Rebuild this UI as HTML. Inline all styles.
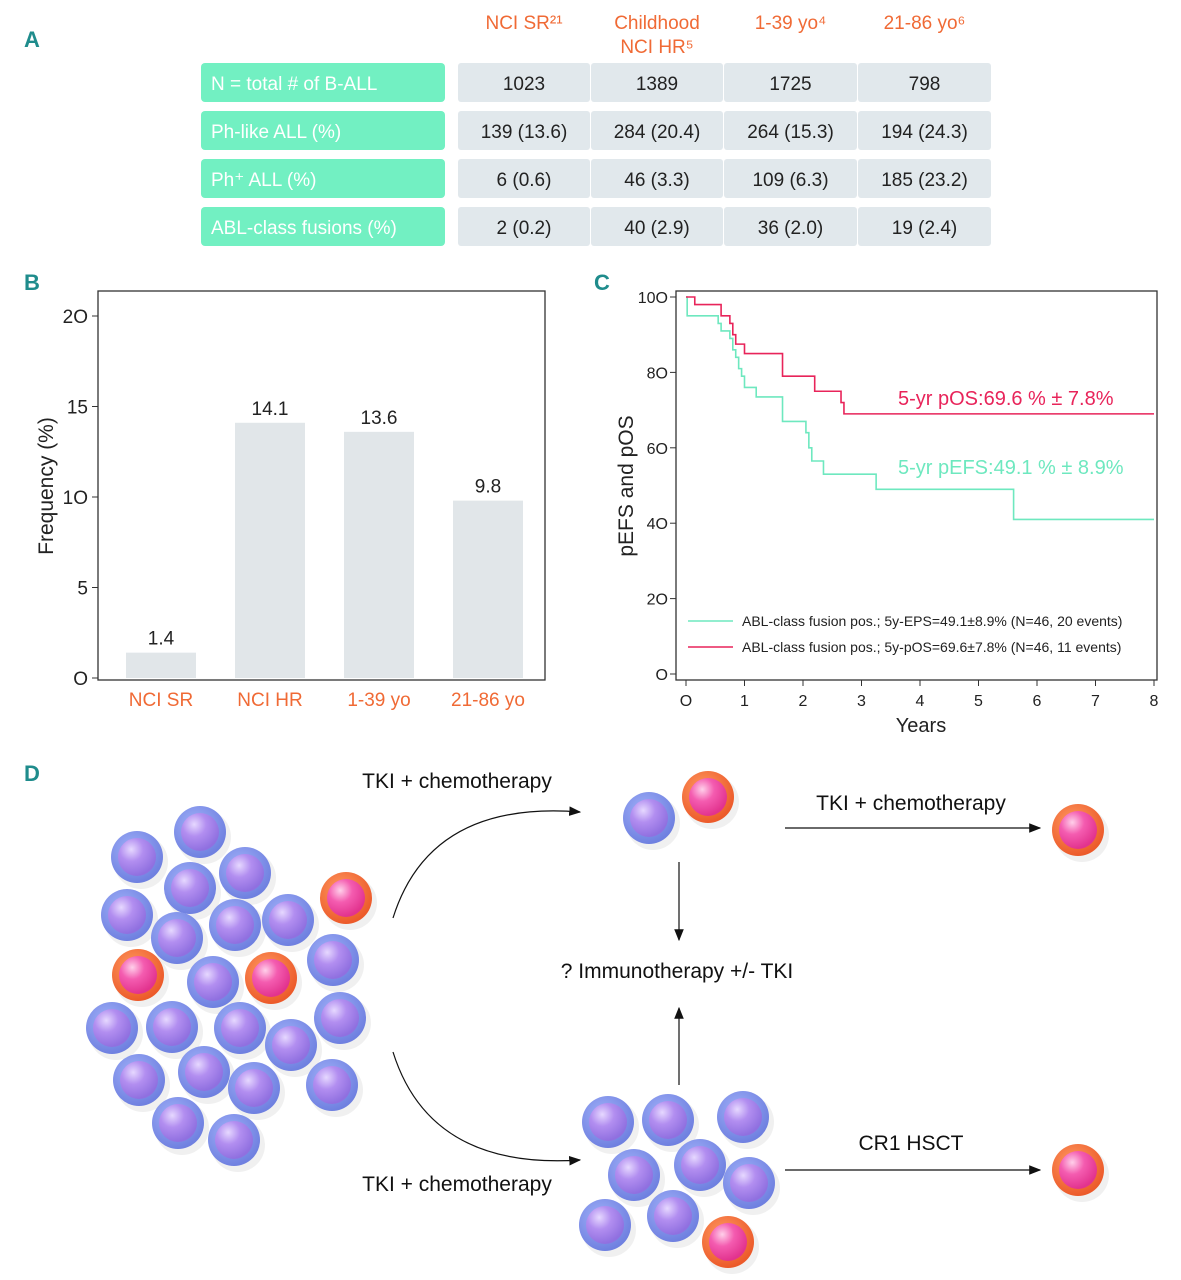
<!DOCTYPE html>
<html><head><meta charset="utf-8"><style>
body{margin:0;background:#fff;width:1181px;height:1280px;overflow:hidden;font-family:"Liberation Sans",sans-serif}
svg{position:absolute;left:0;top:0}
</style></head><body>
<svg width="1181" height="1280" viewBox="0 0 1181 1280" xmlns="http://www.w3.org/2000/svg">
<defs>
<radialGradient id="bo" cx="0.4" cy="0.35" r="0.65"><stop offset="0" stop-color="#9fb0f8"/><stop offset="1" stop-color="#6f80e0"/></radialGradient>
<radialGradient id="bi" cx="0.35" cy="0.3" r="0.7"><stop offset="0" stop-color="#e6d8ff"/><stop offset="0.45" stop-color="#b28ef0"/><stop offset="1" stop-color="#9070e0"/></radialGradient>
<radialGradient id="ro" cx="0.4" cy="0.35" r="0.65"><stop offset="0" stop-color="#ff9a60"/><stop offset="1" stop-color="#ec5a2a"/></radialGradient>
<radialGradient id="ri" cx="0.35" cy="0.3" r="0.7"><stop offset="0" stop-color="#ffd0ea"/><stop offset="0.45" stop-color="#f45cb0"/><stop offset="1" stop-color="#e2338e"/></radialGradient>
<marker id="ah" markerWidth="10" markerHeight="8" refX="9" refY="4" orient="auto"><path d="M0,0 L10,4 L0,8 z" fill="#111"/></marker>
</defs>
<g font-family="Liberation Sans" font-weight="bold" fill="#1f8c8c" font-size="22">
<text x="24" y="47">A</text>
<text x="24" y="290">B</text>
<text x="594" y="290">C</text>
<text x="24" y="781">D</text>
</g>
<g id="tableA" font-size="19"></g>
<g id="chartB"></g>
<g id="chartC"></g>
<g id="panelD" font-size="21" fill="#111"></g>
</svg>
<script>
const NS="http://www.w3.org/2000/svg";
function mk(p,t,a,txt){const e=document.createElementNS(NS,t);for(const k in a)e.setAttribute(k,a[k]);if(txt!=null)e.textContent=txt;p.appendChild(e);return e;}
// ---- Table A
const colHeads=[["NCI SR²¹"],["Childhood","NCI HR⁵"],["1-39 yo⁴"],["21-86 yo⁶"]];
const rowHeads=["N = total # of  B-ALL","Ph-like ALL (%)","Ph⁺ ALL (%)","ABL-class fusions (%)"];
const tableVals=[["1023","1389","1725","798"],["139 (13.6)","284 (20.4)","264 (15.3)","194 (24.3)"],["6 (0.6)","46 (3.3)","109 (6.3)","185 (23.2)"],["2 (0.2)","40 (2.9)","36 (2.0)","19 (2.4)"]];
const T=document.getElementById('tableA');
const cx=[458,591,724,858],cw=[132,132,133,133],ry=[63,111,159,207];
colHeads.forEach((h,i)=>{h.forEach((s,j)=>{const t=mk(T,'text',{x:cx[i]+cw[i]/2,y:29+j*24,'text-anchor':'middle',fill:'#f06a35'},s);
});});
rowHeads.forEach((h,r)=>{const rc=mk(T,'rect',{x:201,y:ry[r],width:244,height:39,rx:4,fill:'#72f0c2'});

const t=mk(T,'text',{x:211,y:ry[r]+27,fill:'#fff'},h);
tableVals[r].forEach((v,i)=>{const c=mk(T,'rect',{x:cx[i],y:ry[r],width:cw[i],height:39,fill:'#e1e8ec',rx:3});

const tt=mk(T,'text',{x:cx[i]+cw[i]/2,y:ry[r]+27,'text-anchor':'middle',fill:'#222'},v);
});});
// ---- Chart B
const bCats=["NCI SR","NCI HR","1-39 yo","21-86 yo"];
const bVals=[1.4,14.1,13.6,9.8];
const bTicks=[0,5,10,15,20];
const B=document.getElementById('chartB');
const by=v=>678-v*18.1, bx=i=>161+i*109;
const fr=mk(B,'rect',{x:98,y:291,width:447,height:389,fill:'none',stroke:'#333','stroke-width':1.3});

bTicks.forEach(t=>{mk(B,'line',{x1:92,x2:98,y1:by(t),y2:by(t),stroke:'#333'});
const l=mk(B,'text',{x:88,y:by(t)+7,'text-anchor':'end','font-size':19,fill:'#222'},t===0?'O':String(t).replace('0','O'));
});
bVals.forEach((v,i)=>{const r=mk(B,'rect',{x:bx(i)-35,y:by(v),width:70,height:678-by(v),fill:'#e1e6e9'});

const l=mk(B,'text',{x:bx(i),y:by(v)-8,'text-anchor':'middle','font-size':19,fill:'#222'},v.toFixed(1));

const c=mk(B,'text',{x:bx(i),y:706,'text-anchor':'middle','font-size':19,fill:'#f06a35'},bCats[i]);
});
const yt=mk(B,'text',{x:53,y:486,'text-anchor':'middle','font-size':21,fill:'#222',transform:'rotate(-90 53 486)'},'Frequency (%)');

// ---- Chart C
const efsT=[0,0.02,0.55,0.6,0.75,0.8,0.85,0.9,0.95,1.0,1.2,1.65,2.05,2.1,2.15,2.35,3.25,5.6,8];
const efsV=[100,95,93,91,89,86,84,81,79,76,73.5,67,64,60,56.5,53,49,41,41];
const osT=[0,0.15,0.6,0.75,0.8,0.85,1.0,1.65,2.2,2.65,2.7,8];
const osV=[100,98,95,93,90,87.5,85,79,75,72,69,69];
const cXT=[0,1,2,3,4,5,6,7,8], cYT=[0,20,40,60,80,100];
const C=document.getElementById('chartC');
const sx=t=>686+t*58.5, sy=v=>674-v*3.77;
const cf=mk(C,'rect',{x:676,y:291,width:481,height:389,fill:'none',stroke:'#333','stroke-width':1.3});

cYT.forEach(t=>{mk(C,'line',{x1:670,x2:676,y1:sy(t),y2:sy(t),stroke:'#333'});
const l=mk(C,'text',{x:668,y:sy(t)+6,'text-anchor':'end','font-size':16,fill:'#222'},String(t).replace(/0/g,'O').replace('1OO','10O'));
});
cXT.forEach(t=>{mk(C,'line',{x1:sx(t),x2:sx(t),y1:680,y2:686,stroke:'#333'});
const l=mk(C,'text',{x:sx(t),y:706,'text-anchor':'middle','font-size':16,fill:'#222'},t===0?'O':String(t));
});
function step(T_,V_){let d='M'+sx(T_[0])+','+sy(V_[0]);for(let i=1;i<T_.length;i++){d+=' H'+sx(T_[i])+' V'+sy(V_[i]);}return d;}
const pe=mk(C,'path',{d:step(efsT,efsV),fill:'none',stroke:'#6ee8bf','stroke-width':1.6});

const po=mk(C,'path',{d:step(osT,osV),fill:'none',stroke:'#e8245a','stroke-width':1.6});

const a1=mk(C,'text',{x:898,y:405,'font-size':20,fill:'#e8245a'},'5-yr pOS:69.6 % ± 7.8%');

const a2=mk(C,'text',{x:898,y:474,'font-size':20,fill:'#6ee8bf'},'5-yr pEFS:49.1 % ± 8.9%');

mk(C,'line',{x1:688,x2:733,y1:621,y2:621,stroke:'#6ee8bf','stroke-width':1.6});
mk(C,'line',{x1:688,x2:733,y1:647,y2:647,stroke:'#e8245a','stroke-width':1.6});
const lg1=mk(C,'text',{x:742,y:626,'font-size':14,fill:'#222'},'ABL-class fusion pos.; 5y-EPS=49.1±8.9% (N=46, 20 events)');

const lg2=mk(C,'text',{x:742,y:652,'font-size':14,fill:'#222'},'ABL-class fusion pos.; 5y-pOS=69.6±7.8% (N=46, 11 events)');

const ct=mk(C,'text',{x:633,y:486,'text-anchor':'middle','font-size':21,fill:'#222',transform:'rotate(-90 633 486)'},'pEFS and pOS');

const xt=mk(C,'text',{x:921,y:732,'text-anchor':'middle','font-size':20,fill:'#222'},'Years');

// ---- Panel D
const D=document.getElementById('panelD');
const cells=[[200,832,0],[137,857,0],[245,873,0],[190,888,0],[127,915,0],[235,925,0],[288,920,0],[346,898,1],[177,938,0],[333,960,0],[138,975,1],[213,982,0],[271,978,1],[112,1028,0],[172,1027,0],[240,1028,0],[291,1045,0],[340,1018,0],[139,1080,0],[204,1072,0],[254,1088,0],[332,1085,0],[178,1123,0],[234,1140,0],
[649,818,0],[708,797,1],[1078,830,1],[608,1122,0],[668,1120,0],[743,1117,0],[634,1175,0],[700,1165,0],[749,1183,0],[605,1225,0],[673,1216,0],[728,1242,1],[1078,1170,1]];
cells.forEach(([x,y,r])=>{const g=mk(D,'g',{});

mk(g,'circle',{cx:x+4,cy:y+5,r:27,fill:'#000',opacity:0.06});
mk(g,'circle',{cx:x,cy:y,r:26,fill:r?'url(#ro)':'url(#bo)'});
mk(g,'circle',{cx:x,cy:y,r:19,fill:r?'url(#ri)':'url(#bi)'});});
const arrows=[['M393,918 Q430,800 580,812','curved-arrow-top'],['M393,1052 Q430,1170 580,1160','curved-arrow-bottom'],['M785,828 H1040','arrow-top-right'],['M679,862 V940','arrow-down'],['M679,1085 V1008','arrow-up'],['M785,1170 H1040','arrow-bottom-right']];
arrows.forEach(([d,n])=>{const p=mk(D,'path',{d:d,fill:'none',stroke:'#111','stroke-width':1.2,'marker-end':'url(#ah)'});
});
[[457,788,'TKI + chemotherapy','label-tki-top'],[911,810,'TKI + chemotherapy','label-tki-right'],[677,978,'? Immunotherapy +/- TKI','label-immunotherapy'],[457,1191,'TKI + chemotherapy','label-tki-bottom'],[911,1150,'CR1 HSCT','label-hsct']].forEach(([x,y,s,n])=>{
const t=mk(D,'text',{x:x,y:y,'text-anchor':'middle'},s);});
</script>
</body></html>
